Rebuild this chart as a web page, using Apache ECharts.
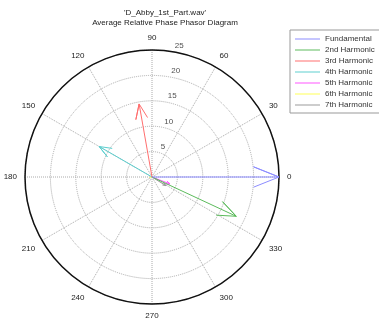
<!DOCTYPE html>
<html>
<head>
<meta charset="utf-8">
<style>
  html, body { margin: 0; padding: 0; background: #fff; }
  #chart { width: 379px; height: 326px; }
</style>
<script src="https://cdn.jsdelivr.net/npm/echarts@6/dist/echarts.min.js"></script>
</head>
<body>
<div id="chart"></div>
<script>
  // phasor data
  const names = ['Fundamental', '2nd Harmonic', '3rd Harmonic', '4th Harmonic', '5th Harmonic', '6th Harmonic', '7th Harmonic']
  const magnitudes = [25, 18.3, 14.6, 12, 3.8, 0.5, 3.2]
  const phases = [0, 335, 100, 150, 339, 190, 328]
  const colors = ['#8c8cff', '#5cbb5c', '#ff6e6e', '#5ccfcf', '#ff55ff', '#ffff55', '#9a9a9a']
  const radiusTicks = [5, 10, 15, 20, 25]
  const angleTicks = [0, 30, 60, 90, 120, 150, 180, 210, 240, 270, 300, 330]

  const font = 'Liberation Sans, Arial, sans-serif'

  // compass style arrow: shaft plus open head (0.2 of length, 0.08 half width)
  function arrow(r, a) {
    const hr = r * Math.sqrt(0.8 * 0.8 + 0.08 * 0.08)
    const da = Math.atan2(0.08, 0.8) * 180 / Math.PI
    const norm = v => ((v % 360) + 360) % 360
    return [[0, 0], [r, a], [hr, norm(a + da)], [r, a], [hr, norm(a - da)]]
  }

  const series = names.map((name, i) => ({
    name: name,
    type: 'line',
    coordinateSystem: 'polar',
    data: arrow(magnitudes[i], phases[i]),
    symbol: 'none',
    clip: false,
    lineStyle: { color: colors[i], width: 1 },
    itemStyle: { color: colors[i] },
    z: 10 - i
  }))

  // radial tick labels, MATLAB style at 82 degrees
  series.push({
    type: 'scatter',
    coordinateSystem: 'polar',
    silent: true,
    clip: false,
    symbolSize: 0,
    data: radiusTicks.map(v => [v + 0.25, 82]),
    label: {
      show: true,
      position: [5, 0],
      align: 'left',
      verticalAlign: 'bottom',
      formatter: p => radiusTicks[p.dataIndex],
      fontSize: 8,
      fontFamily: font,
      color: '#222'
    }
  })

  const option = {
    animation: false,
    backgroundColor: '#fff',
    title: {
      text: "'D_Abby_1st_Part.wav'\nAverage Relative Phase Phasor Diagram",
      left: 160,
      top: 3,
      textAlign: 'center',
      textStyle: { fontSize: 8, lineHeight: 10, fontWeight: 'normal', color: '#222', fontFamily: font }
    },
    legend: {
      orient: 'vertical',
      left: 290,
      top: 30,
      padding: [4, 5, 3, 5],
      borderColor: '#999',
      borderWidth: 1,
      backgroundColor: '#fff',
      icon: 'rect',
      itemWidth: 25,
      itemHeight: 1,
      itemGap: 1,
      data: names,
      textStyle: { fontSize: 8, lineHeight: 10, color: '#333', fontFamily: font }
    },
    polar: {
      center: [152, 177],
      radius: 127
    },
    angleAxis: {
      type: 'value',
      min: 0,
      max: 360,
      interval: 30,
      startAngle: 0,
      clockwise: false,
      axisLine: { lineStyle: { color: '#111', width: 1.5 } },
      axisTick: { show: false },
      axisLabel: {
        margin: 8,
        fontSize: 8,
        fontFamily: font,
        color: '#222',
        formatter: v => (angleTicks.indexOf(v) >= 0 ? String(v) : '')
      },
      splitLine: { show: true, lineStyle: { color: '#aaa', type: 'dotted', width: 1 } }
    },
    radiusAxis: {
      type: 'value',
      min: 0,
      max: 25,
      interval: 5,
      axisLine: { show: false },
      axisTick: { show: false },
      axisLabel: { show: false },
      splitLine: { show: true, lineStyle: { color: '#aaa', type: 'dotted', width: 1 } }
    },
    series: series
  }

  const chart = echarts.init(document.getElementById('chart'))
  chart.setOption(option)
</script>
</body>
</html>
